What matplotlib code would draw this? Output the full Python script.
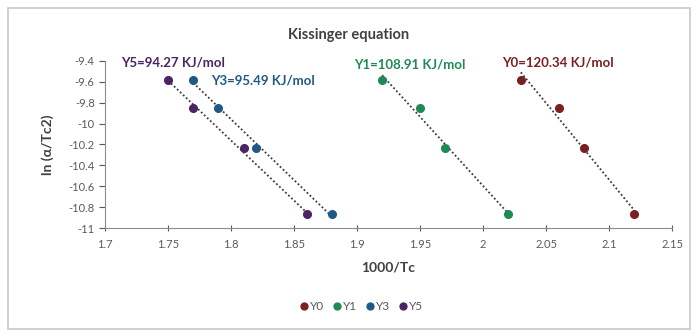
import numpy as np
import matplotlib.pyplot as plt
from matplotlib.patches import Rectangle

plt.rcParams['font.family'] = ['Lato', 'DejaVu Sans']

# data
series_names = ["Y0", "Y1", "Y3", "Y5"]
x_y0 = [2.03, 2.06, 2.08, 2.12]
x_y1 = [1.92, 1.95, 1.97, 2.02]
x_y3 = [1.77, 1.79, 1.82, 1.88]
x_y5 = [1.75, 1.77, 1.81, 1.86]
ln_vals = [-9.58, -9.85, -10.23, -10.87]
energies = ["120.34", "108.91", "95.49", "94.27"]

colors = {"Y0": "#7a1f22", "Y1": "#1f8a56", "Y3": "#1f5a85", "Y5": "#4a2463"}
label_pos = {"Y0": (2.015, -9.41), "Y1": (1.898, -9.43), "Y3": (1.784, -9.59), "Y5": (1.713, -9.41)}

fig = plt.figure(figsize=(6.98, 3.36), dpi=100)
fig.patches.append(Rectangle((0.012, 0.02), 0.976, 0.955, transform=fig.transFigure,
                             fill=False, edgecolor="#c8c8c8", linewidth=1.2))
ax = fig.add_axes([0.1504, 0.3214, 0.8124, 0.4971])

xs = {"Y0": x_y0, "Y1": x_y1, "Y3": x_y3, "Y5": x_y5}
for name, e in zip(series_names, energies):
    x = np.array(xs[name])
    y = np.array(ln_vals)
    ax.plot(x, y, "o", color=colors[name], markersize=5.5, label=name, zorder=3)
    k, b = np.polyfit(x, y, 1)
    xl = np.array([x.min(), x.max()])
    ax.plot(xl, k * xl + b, linestyle=(0, (1, 1.3)), color="#3a3a3a", linewidth=1.3, zorder=2)
    lx, ly = label_pos[name]
    ax.text(lx, ly, f"{name}={e} KJ/mol", color=colors[name], fontsize=9.5,
            fontweight="bold", va="center", ha="left")

ax.set_xlim(1.7, 2.15)
ax.set_ylim(-11, -9.4)
ax.set_xticks(np.arange(1.7, 2.151, 0.05))
ax.set_xticklabels(["1.7", "1.75", "1.8", "1.85", "1.9", "1.95", "2", "2.05", "2.1", "2.15"])
ax.set_yticks(np.arange(-11, -9.39, 0.2))
ax.set_yticklabels(["-11", "-10.8", "-10.6", "-10.4", "-10.2", "-10", "-9.8", "-9.6", "-9.4"])
ax.tick_params(labelsize=8, colors="#595959", length=4, width=0.8)
ax.tick_params(axis="x", direction="inout", pad=6)
for s in ["top", "right"]:
    ax.spines[s].set_visible(False)
for s in ["left", "bottom"]:
    ax.spines[s].set_color("#8c8c8c")

ax.set_xlabel("1000/Tc", fontsize=10, fontweight="bold", color="#404040", labelpad=8)
ax.set_ylabel("ln (α/Tc2)", fontsize=10, fontweight="bold", color="#404040", labelpad=10)
fig.text(0.5, 0.895, "Kissinger equation", ha="center", va="center", fontsize=10.5,
         fontweight="bold", color="#404040")

ax.legend(loc="center", bbox_to_anchor=(0.452, -0.47), ncol=4, frameon=False, fontsize=8.5,
          handlelength=0.7, handletextpad=0.2, columnspacing=0.7, markerscale=0.9,
          labelcolor="#595959")

fig.savefig("out.png", dpi=100)
